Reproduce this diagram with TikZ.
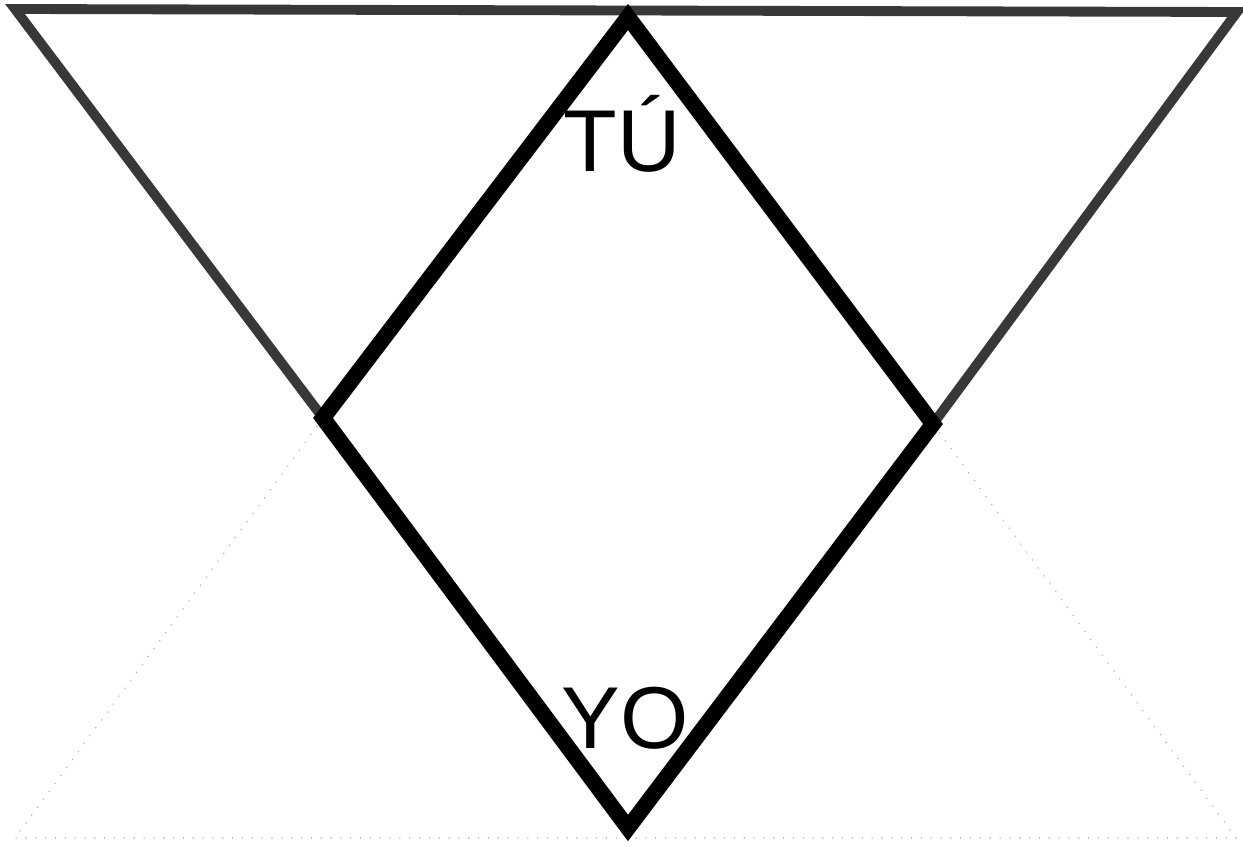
\documentclass[tikz,border=0pt]{standalone}
\usepackage{fontspec}
\setmainfont{Liberation Sans}
\usetikzlibrary{backgrounds}

\begin{document}
\begin{tikzpicture}[x=0.02cm, y=-0.02cm,
    show background rectangle, background rectangle/.style={fill=white},
    inner frame sep=0pt,
    rim/.style={draw=black!78, line width=5.6pt, line join=miter},
    rhomb/.style={draw=black, line width=9pt, line join=miter},
    ghost/.style={draw=black!35, line width=0.6pt, dash pattern=on 0.6pt off 5pt},
    word/.style={font=\fontsize{50}{50}\selectfont, inner sep=0pt, anchor=base}]

  \useasboundingbox (0,0) rectangle (1243,847);

  % ---------------- corners ----------------
  \coordinate (tl) at (15,9);
  \coordinate (tr) at (1237,12);
  \coordinate (dt) at (628,17);
  \coordinate (dl) at (323,418);
  \coordinate (dr) at (933,424);
  \coordinate (db) at (628,828);
  \coordinate (gl) at (15,838);
  \coordinate (gr) at (1236,838);

  % faint upward triangle
  \draw[ghost] (dl) -- (gl) -- (gr) -- (dr);

  % downward triangle
  \draw[rim] (dl) -- (tl) -- (tr) -- (dr);

  % rhombus
  \draw[rhomb] (dt) -- (dr) -- (db) -- (dl) -- cycle;

  \node[word] (tu) at (622,172) {TÚ};
  \node[word] (yo) at (625,748) {YO};
\end{tikzpicture}
\end{document}
